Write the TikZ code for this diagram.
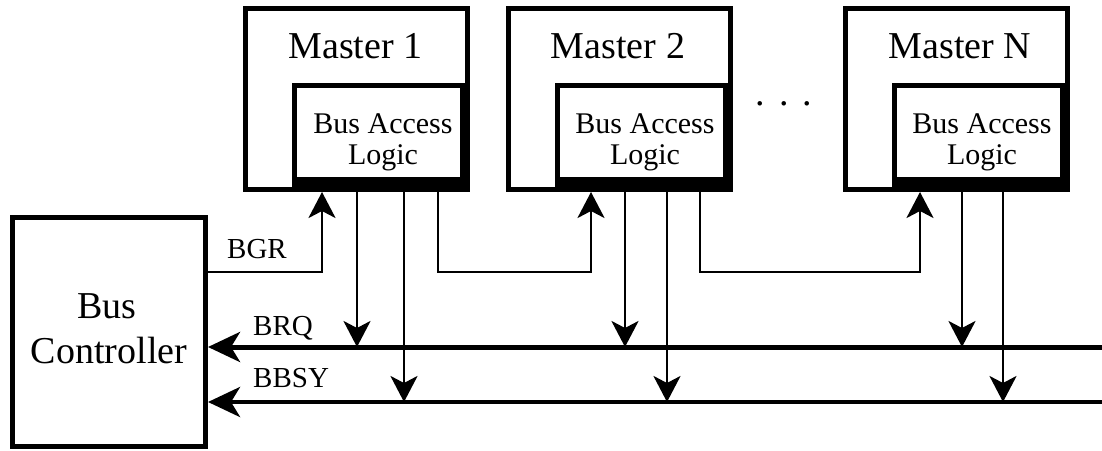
\documentclass[tikz,border=0pt]{standalone}
\usepackage{fontspec}
\setmainfont{Liberation Serif}
\usetikzlibrary{arrows.meta,calc}
\begin{document}
\begin{tikzpicture}[x=1pt,y=-1pt,
  outerbox/.style={draw,line width=5pt,minimum width=222pt,minimum height=181pt,inner sep=0pt},
  innerbox/.style={draw,line width=5pt,minimum width=168pt,minimum height=94pt,inner sep=0pt},
  ctrlbox/.style={draw,line width=5pt,minimum width=193.5pt,minimum height=228.5pt,inner sep=0pt},
  bigtxt/.style={font=\fontsize{38}{40}\selectfont,inner sep=0pt},
  midtxt/.style={font=\fontsize{30}{32}\selectfont,inner sep=0pt},
  lbltxt/.style={font=\fontsize{29}{31}\selectfont,inner sep=0pt,anchor=base west},
  sig/.style={line width=2.8pt},
  bus/.style={line width=5pt},
  strip/.style={fill=black},
  tipv/.style={-{Stealth[length=26pt,width=27pt,inset=7pt]}},
  tiph/.style={-{Stealth[length=32pt,width=30pt,inset=9pt]}}
]
\useasboundingbox (0,0) rectangle (1102,450);

% Bus controller
\node[ctrlbox] (ctrl) at (108.75,331.75) {};
\node[bigtxt,anchor=base] (ctrlA) at (107,318) {Bus};
\node[bigtxt,anchor=base] (ctrlB) at (109,363) {Controller};

% Masters
\node[outerbox] (m1) at (356.5,99) {};
\node[innerbox] (m1i) at (378.5,132.5) {};
\fill[strip] (m1i.south west) rectangle (m1i.east |- m1.south);
\node[bigtxt,anchor=base] (m1t) at (355.5,58) {Master 1};
\node[midtxt,anchor=base] (m1a) at (383,133) {Bus Access};
\node[midtxt,anchor=base] (m1b) at (383,164) {Logic};

\node[outerbox] (m2) at (619.5,99) {};
\node[innerbox] (m2i) at (641.5,132.5) {};
\fill[strip] (m2i.south west) rectangle (m2i.east |- m2.south);
\node[bigtxt,anchor=base] (m2t) at (618,58) {Master 2};
\node[midtxt,anchor=base] (m2a) at (645,133) {Bus Access};
\node[midtxt,anchor=base] (m2b) at (645,164) {Logic};

\node[outerbox] (mn) at (956.5,99) {};
\node[innerbox] (mni) at (978.5,132.5) {};
\fill[strip] (mni.south west) rectangle (mni.east |- mn.south);
\node[bigtxt,anchor=base] (mnt) at (960,58) {Master N};
\node[midtxt,anchor=base] (mna) at (982,133) {Bus Access};
\node[midtxt,anchor=base] (mnb) at (982,164) {Logic};

\node[bigtxt,anchor=base] (dots) at (784,105) {.\hspace{14pt}.\hspace{14pt}.};

% Buses
\coordinate (brqR) at (1102,347);
\coordinate (bbsyR) at (1102,402);
\draw[bus,tiph] (brqR) -- (brqR -| ctrl.east);
\draw[bus,line width=4.5pt,tiph] (bbsyR) -- (bbsyR -| ctrl.east);
\node[lbltxt] (brq) at (253,335) {BRQ};
\node[lbltxt] (bbsy) at (253,387) {BBSY};

% Grant
\coordinate (bgr) at (322,272);
\draw[sig,tipv] (bgr -| ctrl.east) -- (bgr) -- (bgr |- m1.south);
\node[lbltxt] (bgrl) at (227,258) {BGR};

% Daisy chain
\coordinate (c1) at (438,272);
\coordinate (u2) at (591,272);
\draw[sig,tipv] (c1 |- m1.south) -- (c1) -- (u2) -- (u2 |- m2.south);
\coordinate (c2) at (700,272);
\coordinate (un) at (920,272);
\draw[sig,tipv] (c2 |- m2.south) -- (c2) -- (un) -- (un |- mn.south);

% Taps
\coordinate (t1a) at (357,347);
\coordinate (t1b) at (404,402);
\coordinate (t2a) at (625,347);
\coordinate (t2b) at (667,402);
\coordinate (tna) at (962,347);
\coordinate (tnb) at (1003,402);
\draw[sig,tipv] (t1a |- m1.south) -- (t1a);
\draw[sig,tipv] (t1b |- m1.south) -- (t1b);
\draw[sig,tipv] (t2a |- m2.south) -- (t2a);
\draw[sig,tipv] (t2b |- m2.south) -- (t2b);
\draw[sig,tipv] (tna |- mn.south) -- (tna);
\draw[sig,tipv] (tnb |- mn.south) -- (tnb);
\end{tikzpicture}
\end{document}
